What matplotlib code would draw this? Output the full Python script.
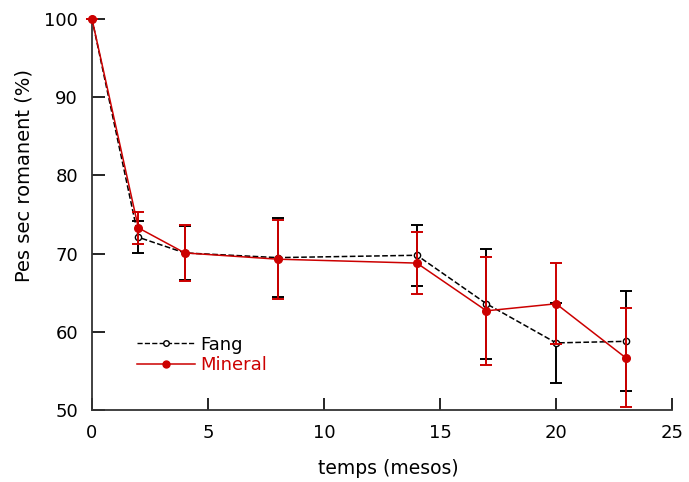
import matplotlib
matplotlib.use('Agg')
import matplotlib.pyplot as plt
from matplotlib.lines import Line2D

# temps (mesos) i pes sec romanent (%)
temps = [0, 2, 4, 8, 14, 17, 20, 23]
fang = [100, 72.1, 70.1, 69.5, 69.8, 63.6, 58.6, 58.8]
fang_err = [0, 2.05, 3.5, 5.0, 3.9, 7.0, 5.15, 6.4]
mineral = [100, 73.3, 70.1, 69.3, 68.8, 62.7, 63.6, 56.7]
mineral_err = [0, 2.0, 3.55, 5.05, 3.95, 6.9, 5.2, 6.35]

vermell = '#cc0000'
plt.rcParams['font.family'] = ['DejaVu Sans']

fig = plt.figure(figsize=(6.89, 4.82), dpi=100)
ax = fig.add_axes([0.1335, 0.149, 0.842, 0.8116])

ax.errorbar(temps, fang, yerr=fang_err, color='black', linestyle='--', linewidth=1.1,
            marker='o', markersize=4.5, markerfacecolor='white', markeredgecolor='black',
            ecolor='black', elinewidth=1.4, capsize=4, capthick=1.4,
            clip_on=False, zorder=3)
ax.errorbar(temps, mineral, yerr=mineral_err, color=vermell, linestyle='-', linewidth=1.1,
            marker='o', markersize=5.5, markerfacecolor=vermell, markeredgecolor=vermell,
            ecolor=vermell, elinewidth=1.4, capsize=4, capthick=1.4,
            clip_on=False, zorder=4)

ax.set_xlim(0, 25)
ax.set_ylim(50, 100)
ax.set_xticks([0, 5, 10, 15, 20, 25])
ax.set_yticks([50, 60, 70, 80, 90, 100])
ax.tick_params(direction='in', length=9, width=1.2, labelsize=13, pad=10)
for s in ['top', 'right']:
    ax.spines[s].set_visible(False)
for s in ['left', 'bottom']:
    ax.spines[s].set_linewidth(1.3)
    ax.spines[s].set_color('#333333')

ax.set_xlabel('temps (mesos)', fontsize=13.5)
ax.set_ylabel('Pes sec romanent (%)', fontsize=14)
ax.xaxis.set_label_coords(0.51, -0.125)
ax.yaxis.set_label_coords(-0.10, 0.60)

# llegenda sense barres d'error
handles = [
    Line2D([], [], color='black', linestyle='--', linewidth=1.0, marker='o', markersize=4,
           markerfacecolor='white', markeredgecolor='black'),
    Line2D([], [], color=vermell, linestyle='-', linewidth=1.1, marker='o', markersize=5,
           markerfacecolor=vermell, markeredgecolor=vermell),
]
leg = ax.legend(handles, ['Fang', 'Mineral'], loc='lower left', bbox_to_anchor=(0.05, 0.05),
                frameon=False, fontsize=13, handlelength=3.2, handletextpad=0.3,
                labelspacing=0.15)
for txt, c in zip(leg.get_texts(), ['black', vermell]):
    txt.set_color(c)

fig.savefig('out.png', dpi=100)
